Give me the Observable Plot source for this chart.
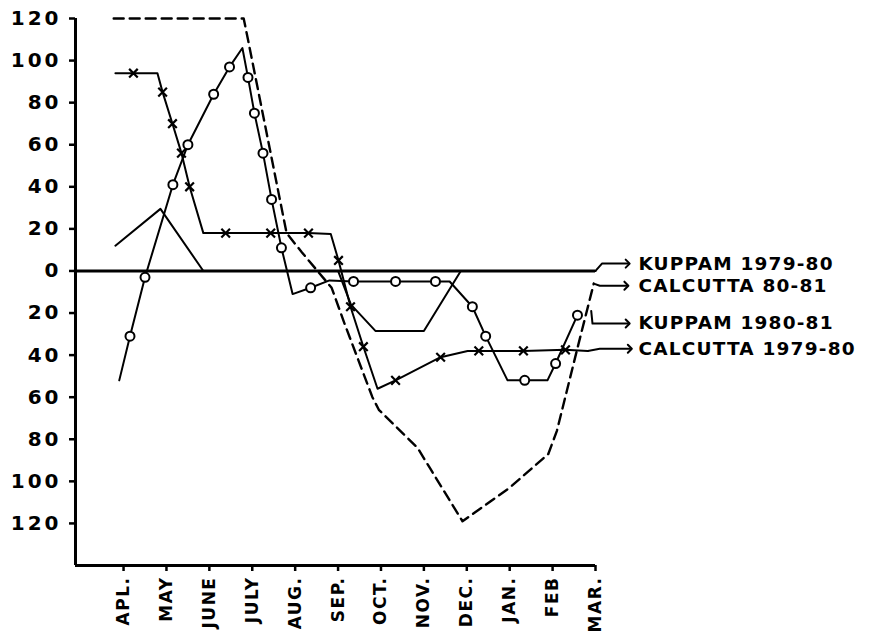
<!DOCTYPE html>
<html><head><meta charset="utf-8">
<script src="https://cdn.jsdelivr.net/npm/d3@7"></script>
<script src="https://cdn.jsdelivr.net/npm/@observablehq/plot@0.6"></script>
<style>
body{margin:0;background:#fff;}
.ylab text{letter-spacing:3px;}
.xlab text{letter-spacing:1.5px;}
.leg{letter-spacing:1.2px;}
</style></head><body><div id="chart"></div>
<script>
// Month tick labels (position 0 = APL.)
const months = ["APL.","MAY","JUNE","JULY","AUG.","SEP.","OCT.","NOV.","DEC.","JAN.","FEB","MAR."];
const monthPos = [0,1,2,3,4,5,6,7,8,9,10,11];
const yTicks = [-120,-100,-80,-60,-40,-20,0,20,40,60,80,100,120];

// KUPPAM 1979-80 (solid line)
const kup7980X = [-0.19, 0.86, 1.86, 5.0, 5.3, 5.87, 7.0, 7.86, 11.0];
const kup7980Y = [12, 29.5, 0, 0, -16, -28.5, -28.5, 0, 0];

// CALCUTTA 80-81 (dashed line)
const cal8081X = [-0.23, 2.8, 2.9, 3.8, 4.15, 4.85, 5.15, 5.8, 5.95, 6.85, 7.15, 7.9, 9.0, 9.9, 10.1, 10.6, 10.96];
const cal8081Y = [120, 120, 110, 18, 9, -8, -25, -60, -66, -84, -94, -119, -103, -87, -76, -35, -6];

// KUPPAM 1980-81 (line with circles)
const kup8081X = [-0.1, 0.15, 0.5, 1.15, 1.5, 2.1, 2.47, 2.77, 2.9, 3.05, 3.25, 3.45, 3.68, 3.94, 4.36, 4.8, 5.36, 6.34, 7.27, 7.6, 8.13, 8.44, 8.95, 9.35, 9.88, 10.07, 10.58];
const kup8081Y = [-52, -31, -3, 41, 60, 84, 97, 106, 92, 75, 56, 34, 11, -11, -8, -4.5, -5, -5, -5, -5, -17, -31, -52, -52, -52, -44, -21];
const kup8081MarkX = [0.15, 0.5, 1.15, 1.5, 2.1, 2.47, 2.9, 3.05, 3.25, 3.45, 3.68, 4.36, 5.36, 6.34, 7.27, 8.13, 8.44, 9.35, 10.07, 10.58];
const kup8081MarkY = [-31, -3, 41, 60, 84, 97, 92, 75, 56, 34, 11, -8, -5, -5, -5, -17, -31, -52, -44, -21];

// CALCUTTA 1979-80 (line with x marks)
const cal7980X = [-0.19, 0.23, 0.79, 0.91, 1.14, 1.35, 1.54, 1.86, 2.38, 3.43, 4.31, 4.83, 5.01, 5.29, 5.59, 5.92, 6.34, 7.39, 8.02, 8.28, 9.32, 10.30, 10.82];
const cal7980Y = [94, 94, 94, 85, 70, 56, 40, 18, 18, 18, 18, 17.6, 5, -17, -36, -56, -52, -41, -38, -38, -38, -37.5, -38];
const cal7980MarkX = [0.23, 0.91, 1.14, 1.35, 1.54, 2.38, 3.43, 4.31, 5.01, 5.29, 5.59, 6.34, 7.39, 8.28, 9.32, 10.30];
const cal7980MarkY = [94, 85, 70, 56, 40, 18, 18, 18, 5, -17, -36, -52, -41, -38, -38, -37.5];

// Legend labels and their connector lines
const legendNames = ["KUPPAM 1979-80", "CALCUTTA 80-81", "KUPPAM 1980-81", "CALCUTTA 1979-80"];
const legendY = [3.5, -7, -25, -37];
const legendConnX = [[11.0, 11.15, 11.75], [10.96, 11.1, 11.72], [10.9, 10.93, 11.75], [10.82, 11.1, 11.8]];
const legendConnY = [[0, 3.5, 3.5], [-6, -7, -7], [-19, -25, -25], [-38, -37, -37]];
const legendX = 12.0;

const rows = (xs, ys) => xs.map((x, i) => ({x, y: ys[i]}));
const conn = legendConnX.flatMap((xs, k) => xs.map((x, i) => ({k, x, y: legendConnY[k][i]})));
const legend = legendNames.map((name, i) => ({name, x: legendX, y: legendY[i]}));

const xMin = -1.12, xMax = 11, yMin = -140, yMax = 120;

const chart = Plot.plot({
  width: 869, height: 637,
  marginLeft: 75, marginRight: 274, marginTop: 18, marginBottom: 72,
  style: {fontFamily: "DejaVu Sans", background: "#fff", color: "#000"},
  x: {domain: [xMin, xMax]},
  y: {domain: [yMin, yMax]},
  marks: [
    Plot.axisY({ticks: yTicks, tickFormat: d => Math.abs(d), tickSize: 6, tickPadding: 8, fontSize: 20, fontWeight: "bold", strokeWidth: 2.5, label: null, className: "ylab"}),
    Plot.axisX({ticks: monthPos, tickFormat: i => months[i], tickRotate: -90, tickSize: 6, tickPadding: 5, fontSize: 17, fontWeight: "bold", strokeWidth: 2.5, label: null, className: "xlab"}),
    Plot.ruleX([xMin], {y1: yMin, y2: yMax, strokeWidth: 3}),
    Plot.ruleY([yMin], {x1: xMin, x2: xMax, strokeWidth: 3}),
    Plot.ruleY([0], {x1: xMin, x2: xMax, strokeWidth: 3}),
    Plot.line(rows(kup7980X, kup7980Y), {x: "x", y: "y", strokeWidth: 2}),
    Plot.line(rows(cal8081X, cal8081Y), {x: "x", y: "y", strokeWidth: 2.4, strokeDasharray: "10,6"}),
    Plot.line(rows(kup8081X, kup8081Y), {x: "x", y: "y", strokeWidth: 2}),
    Plot.line(rows(cal7980X, cal7980Y), {x: "x", y: "y", strokeWidth: 2}),
    Plot.dot(rows(kup8081MarkX, kup8081MarkY), {x: "x", y: "y", r: 4.5, fill: "white", stroke: "black", strokeWidth: 2}),
    Plot.dot(rows(cal7980MarkX, cal7980MarkY), {x: "x", y: "y", r: 4, symbol: "times", stroke: "black", strokeWidth: 2.2}),
    Plot.line(conn, {x: "x", y: "y", z: "k", strokeWidth: 2, markerEnd: "arrow"}),
    Plot.text(legend, {x: "x", y: "y", text: "name", textAnchor: "start", fontSize: 18.5, fontWeight: "bold", className: "leg"})
  ]
});
document.getElementById("chart").appendChild(chart);
</script></body></html>
